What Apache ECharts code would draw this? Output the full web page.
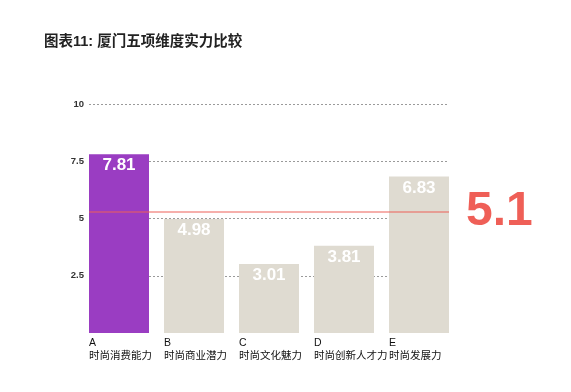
<!DOCTYPE html>
<html><head><meta charset="utf-8">
<script src="https://cdn.jsdelivr.net/npm/echarts@6/dist/echarts.min.js"></script>
<style>html,body{margin:0;padding:0;background:#fff}#c{width:571px;height:392px}</style>
</head><body><div id="c"></div>
<script>
const title = '图表11: 厦门五项维度实力比较';
const letters = ['A', 'B', 'C', 'D', 'E'];
const categories = ['时尚消费能力', '时尚商业潜力', '时尚文化魅力', '时尚创新人才力', '时尚发展力'];
const values = [7.81, 4.98, 3.01, 3.81, 6.83];
const highlight = [true, false, false, false, false];
const avgLabel = '5.1';
const yTicks = [0, 2.5, 5, 7.5, 10];

const FONT = '"Liberation Sans", "Noto Sans CJK SC", sans-serif';
const gTop = 104, gHeight = 229;
const cats = letters.map((l, i) => l + '|' + categories[i]);

const chart = echarts.init(document.getElementById('c'), null, {renderer: 'canvas'});
chart.setOption({
  backgroundColor: '#fff',
  animation: false,
  title: {
    text: title, left: 44, top: 35, padding: 0,
    textStyle: {fontFamily: FONT, fontSize: 14.5, fontWeight: 'bold', color: '#222'}
  },
  grid: [
    {left: 81.5, width: 375, top: gTop, height: gHeight},
    {left: 89, width: 360, top: gTop, height: gHeight},
    {left: 51.5, width: 375, top: gTop, height: gHeight}
  ],
  xAxis: [
    {type: 'category', gridIndex: 0, data: cats, show: false},
    {type: 'category', gridIndex: 1, data: cats, show: false},
    {type: 'category', gridIndex: 2, data: cats,
     axisLine: {show: false}, axisTick: {show: false},
     axisLabel: {
       align: 'left', margin: 4, interval: 0,
       formatter: v => { const p = v.split('|'); return '{a|' + p[0] + '}\n{b|' + p[1] + '}'; },
       rich: {
         a: {fontFamily: FONT, fontSize: 10.5, color: '#111', lineHeight: 13},
         b: {fontFamily: FONT, fontSize: 10.5, color: '#111', lineHeight: 13}
       }
     }}
  ],
  yAxis: [
    {type: 'value', gridIndex: 0, min: yTicks[0], max: yTicks[yTicks.length - 1], show: false},
    {type: 'value', gridIndex: 1, min: yTicks[0], max: yTicks[yTicks.length - 1], interval: 2.5,
     axisLine: {show: false}, axisTick: {show: false},
     axisLabel: {margin: 5, showMinLabel: false, fontFamily: FONT, fontSize: 9.5, fontWeight: 'bold', color: '#333'},
     splitLine: {show: true, showMinLine: false, lineStyle: {color: '#9a9a9a', type: [2, 2], width: 1}}},
    {type: 'value', gridIndex: 2, show: false}
  ],
  series: [
    {
      type: 'bar', xAxisIndex: 0, yAxisIndex: 0, barWidth: 60,
      data: values.map((v, i) => ({value: v, itemStyle: {color: highlight[i] ? '#9A3DC2' : '#DFDBD1'}})),
      label: {show: true, position: 'insideTop', distance: 3,
        fontFamily: FONT, fontSize: 17, fontWeight: 'bold', color: '#fff'}
    },
    {
      type: 'line', xAxisIndex: 1, yAxisIndex: 1, data: values,
      symbol: 'none', lineStyle: {opacity: 0}, silent: true, z: 5,
      markLine: {
        silent: true, symbol: 'none',
        data: [{type: 'average'}],
        lineStyle: {color: 'rgba(238,95,88,0.5)', width: 2, type: 'solid'},
        label: {show: true, position: 'end', distance: 17, formatter: avgLabel,
          fontFamily: FONT, fontSize: 48, fontWeight: 'bold', color: '#EF5F57'}
      }
    }
  ]
});
</script></body></html>
